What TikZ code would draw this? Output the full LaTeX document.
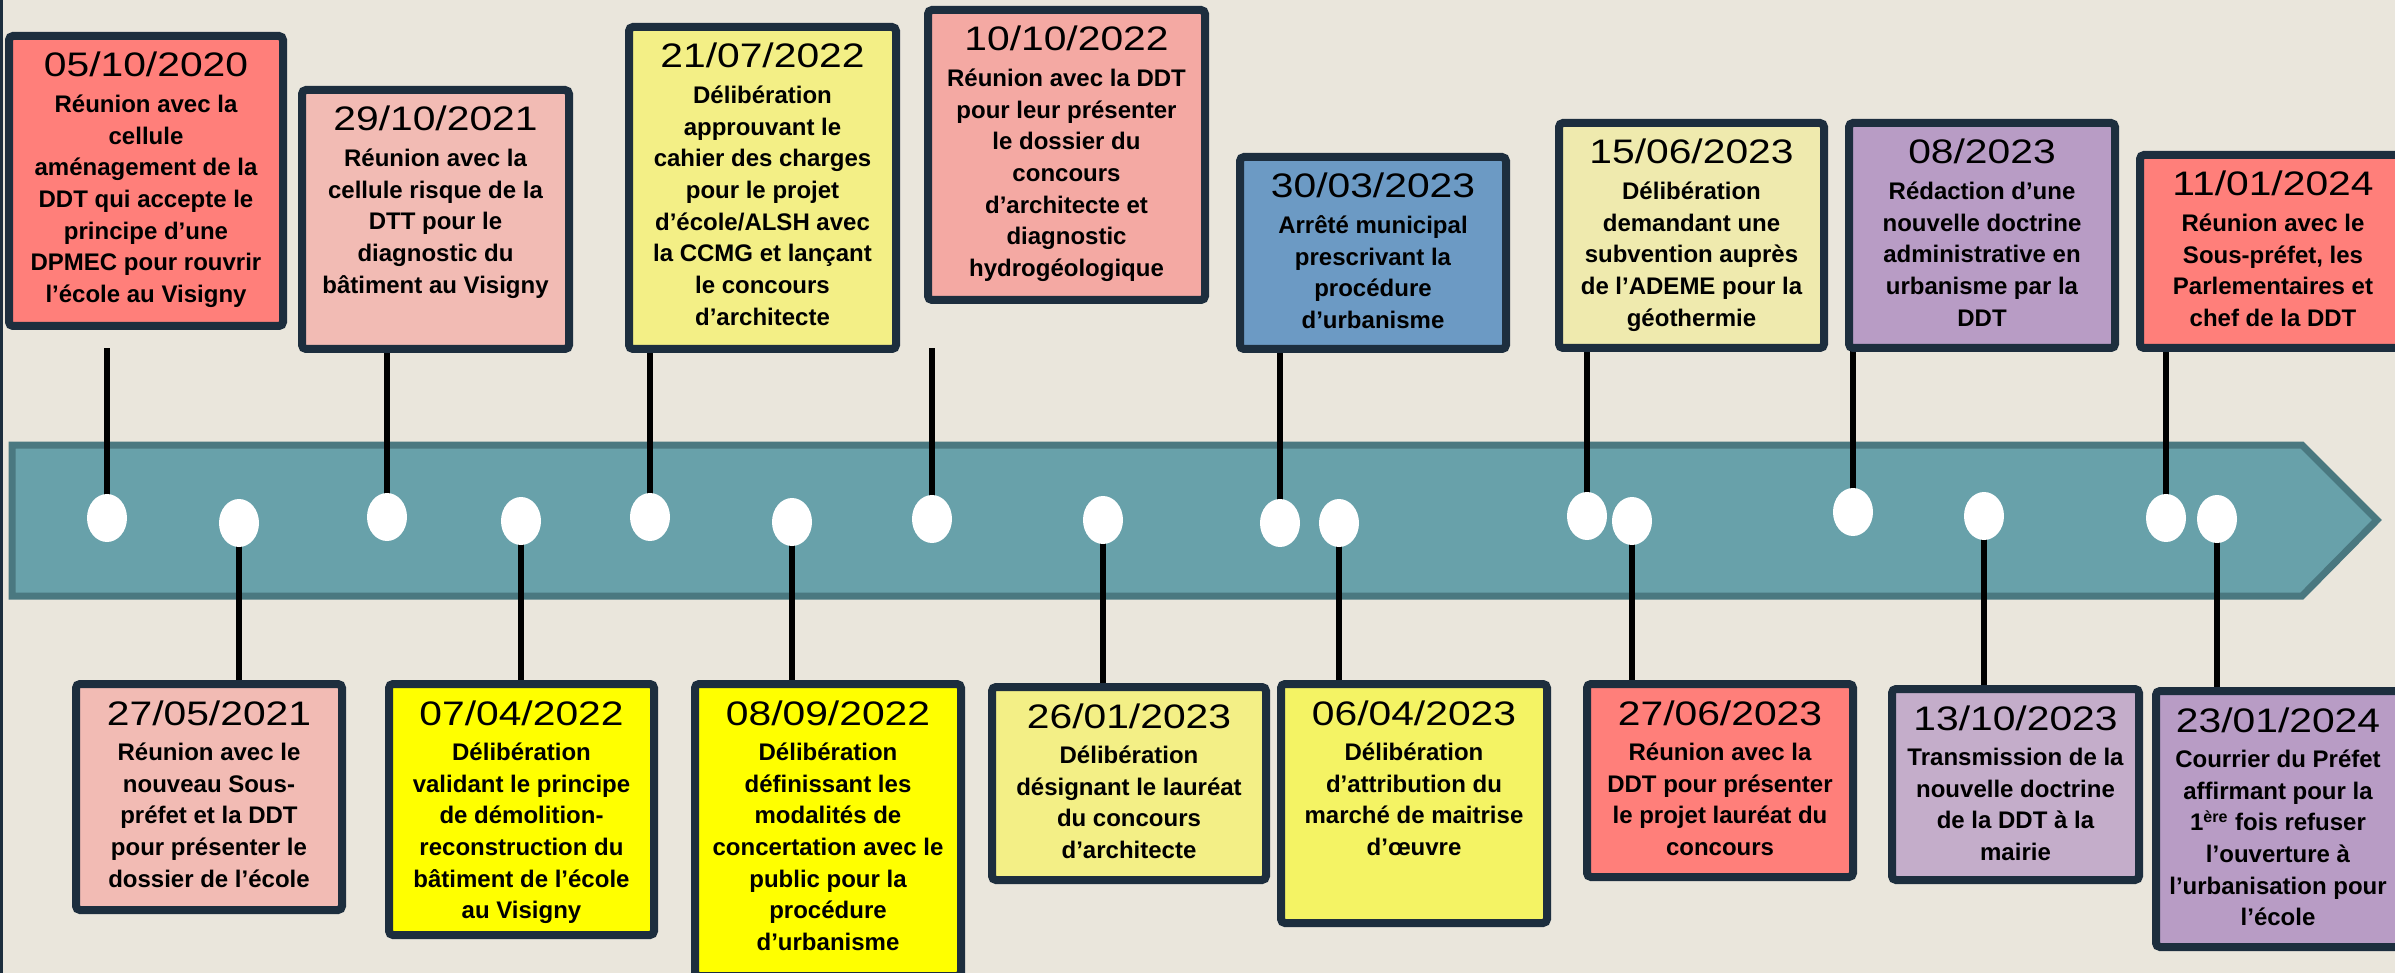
\documentclass[tikz,border=0pt]{standalone}
\usepackage{fontspec}
\setmainfont{Liberation Sans}
\newfontfamily\datefont{Liberation Sans}[FakeStretch=1.2]
\newfontfamily\bodyfont{Liberation Sans}
\usetikzlibrary{fit,shapes.geometric}
\pgfdeclarelayer{bg}
\pgfdeclarelayer{mid}
\pgfsetlayers{bg,mid,main}
\definecolor{bgc}{HTML}{EAE6DC}
\definecolor{navy}{HTML}{1D2E3E}
\definecolor{bandfill}{HTML}{68A1AA}
\definecolor{bandline}{HTML}{4A7880}
\definecolor{cRed}{HTML}{FF7F7A}
\definecolor{cPink}{HTML}{F2BBB4}
\definecolor{cPinkB}{HTML}{F4A9A3}
\definecolor{cYel}{HTML}{F3EF86}
\definecolor{cYelB}{HTML}{FFFF00}
\definecolor{cYelC}{HTML}{F4F364}
\definecolor{cPaleY}{HTML}{EFEAAE}
\definecolor{cBlue}{HTML}{6C9AC4}
\definecolor{cLav}{HTML}{B89CC5}
\definecolor{cLavB}{HTML}{C4ADCA}
\tikzset{
  evbox/.style={draw=navy, line width=4pt, rounded corners=2pt, inner sep=0pt},
  datelbl/.style={font=\datefont\fontsize{17pt}{20pt}\selectfont, inner sep=0pt, text=black},
  bodylbl/.style={font=\bodyfont\fontsize{12pt}{15.85pt}\selectfont\bfseries, align=center, inner sep=0pt, text=black},
  evdot/.style={ellipse, fill=white, minimum width=20pt, minimum height=24pt, inner sep=0pt},
  conn/.style={line width=3.4pt, black}
}
% name, left, top, right, bottom, colour, date, text
\newcommand\evt[8]{%
  \node[evbox, fill=#6, fit={({#2+4},{#3+4}) ({#4-4},{#5-4})}] (#1) {};
  \node[datelbl, anchor=base] (#1d) at ([yshift=-22.5pt]#1.north) {#7};
  \node[bodylbl, anchor=north] (#1b) at ([yshift=-28pt]#1.north) {\rule{0pt}{12pt}#8};
}
\begin{document}
\begin{tikzpicture}[x=0.5pt,y=-0.5pt]
\useasboundingbox (0,0) rectangle (2395,973);
\clip (0,0) rectangle (2395,973);
\begin{pgfonlayer}{bg}
  \fill[bgc] (0,0) rectangle (2395,973);
  \fill[navy] (0,0) rectangle (3,973);
  \draw[fill=bandfill, draw=bandline, line width=3.5pt, line join=miter]
    (12,445) -- (2302,445) -- (2377,520) -- (2302,596) -- (12,596) -- cycle;
\end{pgfonlayer}

% top events
\evt{T1}{5}{32}{287}{330}{cRed}{05/10/2020}{Réunion avec la\\cellule\\aménagement de la\\DDT qui accepte le\\principe d’une\\DPMEC pour rouvrir\\l’école au Visigny}
\evt{T2}{298}{86}{573}{353}{cPink}{29/10/2021}{Réunion avec la\\cellule risque de la\\DTT pour le\\diagnostic du\\bâtiment au Visigny}
\evt{T3}{625}{23}{900}{353}{cYel}{21/07/2022}{Délibération\\approuvant le\\cahier des charges\\pour le projet\\d’école/ALSH avec\\la CCMG et lançant\\le concours\\d’architecte}
\evt{T4}{924}{6}{1209}{304}{cPinkB}{10/10/2022}{Réunion avec la DDT\\pour leur présenter\\le dossier du\\concours\\d’architecte et\\diagnostic\\hydrogéologique}
\evt{T5}{1236}{153}{1510}{353}{cBlue}{30/03/2023}{Arrêté municipal\\prescrivant la\\procédure\\d’urbanisme}
\evt{T6}{1555}{119}{1828}{352}{cPaleY}{15/06/2023}{Délibération\\demandant une\\subvention auprès\\de l’ADEME pour la\\géothermie}
\evt{T7}{1845}{119}{2119}{352}{cLav}{08/2023}{Rédaction d’une\\nouvelle doctrine\\administrative en\\urbanisme par la\\DDT}
\evt{T8}{2136}{151}{2410}{352}{cRed}{11/01/2024}{Réunion avec le\\Sous-préfet, les\\Parlementaires et\\chef de la DDT}

% bottom events
\evt{B1}{72}{680}{346}{914}{cPink}{27/05/2021}{Réunion avec le\\nouveau Sous-\\préfet et la DDT\\pour présenter le\\dossier de l’école}
\evt{B2}{385}{680}{658}{939}{cYelB}{07/04/2022}{Délibération\\validant le principe\\de démolition-\\reconstruction du\\bâtiment de l’école\\au Visigny}
\evt{B3}{691}{680}{965}{980}{cYelB}{08/09/2022}{Délibération\\définissant les\\modalités de\\concertation avec le\\public pour la\\procédure\\d’urbanisme}
\evt{B4}{988}{683}{1270}{884}{cYel}{26/01/2023}{Délibération\\désignant le lauréat\\du concours\\d’architecte}
\evt{B5}{1277}{680}{1551}{927}{cYelC}{06/04/2023}{Délibération\\d’attribution du\\marché de maitrise\\d’œuvre}
\evt{B6}{1583}{680}{1857}{881}{cRed}{27/06/2023}{Réunion avec la\\DDT pour présenter\\le projet lauréat du\\concours}
\evt{B7}{1888}{685}{2143}{884}{cLavB}{13/10/2023}{Transmission de la\\nouvelle doctrine\\de la DDT à la\\mairie}
\evt{B8}{2152}{687}{2404}{951}{cLav}{23/01/2024}{Courrier du Préfet\\affirmant pour la\\1\textsuperscript{ère} fois refuser\\l’ouverture à\\l’urbanisation pour\\l’école}

% dots on the band
\node[evdot] (dT1) at (107,518) {};
\node[evdot] (dB1) at (239,523) {};
\node[evdot] (dT2) at (387,517) {};
\node[evdot] (dB2) at (521,521) {};
\node[evdot] (dT3) at (650,517) {};
\node[evdot] (dB3) at (792,522) {};
\node[evdot] (dT4) at (932,519) {};
\node[evdot] (dB4) at (1103,520) {};
\node[evdot] (dT5) at (1280,523) {};
\node[evdot] (dB5) at (1339,523) {};
\node[evdot] (dT6) at (1587,516) {};
\node[evdot] (dB6) at (1632,521) {};
\node[evdot] (dT7) at (1853,512) {};
\node[evdot] (dB7) at (1984,516) {};
\node[evdot] (dT8) at (2166,518) {};
\node[evdot] (dB8) at (2217,519) {};

\coordinate (toprow) at (0,348);
\begin{pgfonlayer}{mid}
  \foreach \k in {1,...,8} {
    \draw[conn] (dT\k.center) -- (dT\k |- toprow);
    \draw[conn] (dB\k.center) -- (dB\k |- B\k.north);
  }
\end{pgfonlayer}
\end{tikzpicture}
\end{document}
